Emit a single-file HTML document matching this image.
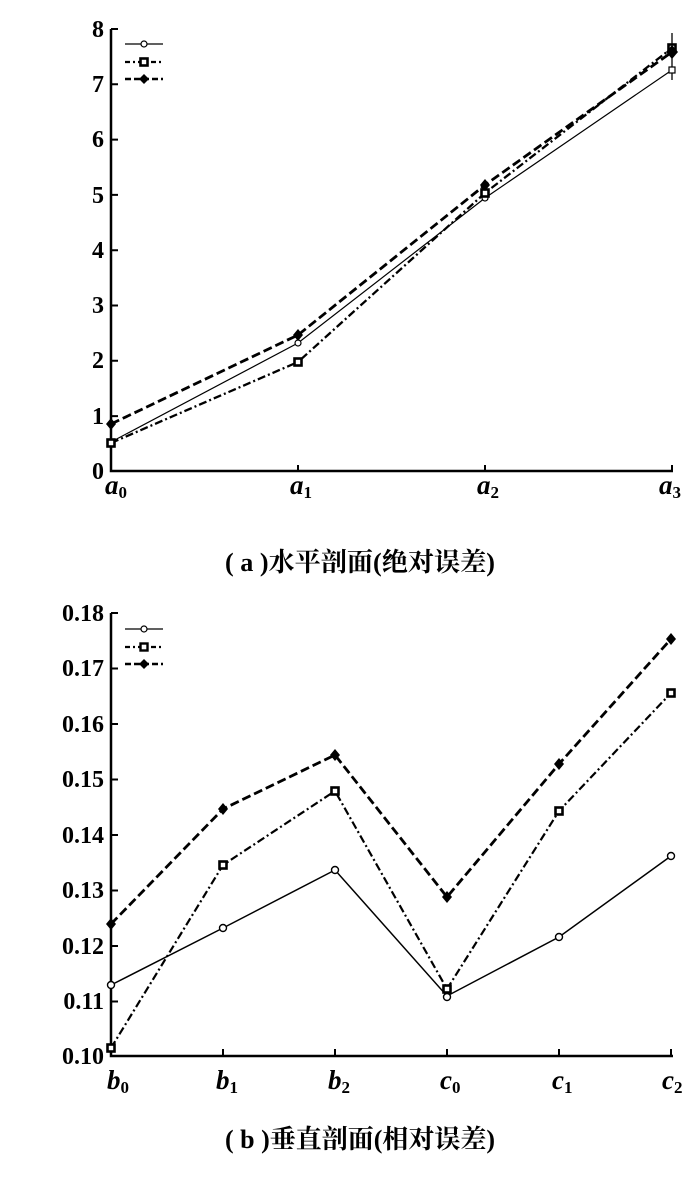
<!DOCTYPE html>
<html><head><meta charset="utf-8"><style>
html,body{margin:0;padding:0;background:#fff;}
svg{display:block;}
.t{font-family:"Liberation Serif",serif;font-weight:bold;font-size:24px;fill:#000;}
.x{font-family:"Liberation Serif",serif;font-weight:bold;font-style:italic;font-size:27px;fill:#000;}
.s{font-style:normal;font-size:17px;}
.c{font-family:"Liberation Serif","Noto Serif CJK SC",serif;font-size:26px;font-weight:bold;fill:#000;}
</style></head><body>
<svg width="700" height="1190" viewBox="0 0 700 1190" xmlns="http://www.w3.org/2000/svg">
<rect width="700" height="1190" fill="#fff"/>
<!-- TOP CHART -->
<g stroke="#000" stroke-width="2.5" fill="none">
<path d="M111,29 V471 H673"/>
<path d="M111,29 h7 M111,84.3 h7 M111,139.6 h7 M111,194.9 h7 M111,250.2 h7 M111,305.5 h7 M111,360.8 h7 M111,416.1 h7" stroke-width="2"/>
<path d="M298,471 v-6 M485,471 v-6 M672,471 v-6" stroke-width="2"/>
</g>
<g class="t" text-anchor="end">
<text x="104" y="37">8</text><text x="104" y="92">7</text><text x="104" y="147">6</text><text x="104" y="203">5</text>
<text x="104" y="258">4</text><text x="104" y="313">3</text><text x="104" y="368">2</text><text x="104" y="424">1</text><text x="104" y="479">0</text>
</g>
<g class="x">
<text x="105" y="494">a<tspan class="s" dy="4">0</tspan></text>
<text x="290" y="494">a<tspan class="s" dy="4">1</tspan></text>
<text x="477" y="494">a<tspan class="s" dy="4">2</tspan></text>
<text x="659" y="494">a<tspan class="s" dy="4">3</tspan></text>
</g>
<!-- series -->
<polyline points="111,442 298,343 485,198 672,70" fill="none" stroke="#000" stroke-width="1.2"/>
<polyline points="111,443 298,362 485,193 672,48" fill="none" stroke="#000" stroke-width="2.3" stroke-dasharray="8,3,2,3"/>
<polyline points="111,424 298,335 485,185 672,52" fill="none" stroke="#000" stroke-width="2.8" stroke-dasharray="9,4"/>
<line x1="672" y1="33" x2="672" y2="80" stroke="#000" stroke-width="1.3"/>
<g fill="#fff" stroke="#000" stroke-width="1.2">
<circle cx="298" cy="343" r="3"/><circle cx="485" cy="198" r="3"/><rect x="669" y="67" width="6" height="6"/>
</g>
<g fill="#fff" stroke="#000" stroke-width="2.6">
<rect x="107.5" y="439.5" width="7" height="7"/><rect x="294.5" y="358.5" width="7" height="7"/><rect x="481.5" y="189.5" width="7" height="7"/><rect x="668.5" y="44.5" width="7" height="7"/>
</g>
<g fill="#000">
<path d="M111,418 l5,6 l-5,6 l-5,-6z"/><path d="M298,329 l5,6 l-5,6 l-5,-6z"/><path d="M485,179 l5,6 l-5,6 l-5,-6z"/><path d="M672,45 l6,7 l-6,7 l-6,-7z"/>
</g>
<!-- legend top -->
<line x1="125" y1="44" x2="163" y2="44" stroke="#000" stroke-width="1.3"/>
<circle cx="144" cy="44" r="3" fill="#fff" stroke="#000" stroke-width="1.2"/>
<line x1="125" y1="62" x2="163" y2="62" stroke="#000" stroke-width="2.3" stroke-dasharray="5,3,2,3"/>
<rect x="140.5" y="58.5" width="7" height="7" fill="#fff" stroke="#000" stroke-width="2.6"/>
<line x1="125" y1="79" x2="163" y2="79" stroke="#000" stroke-width="2.6" stroke-dasharray="6,3"/>
<path d="M144,74 l5,5 l-5,5 l-5,-5z" fill="#000"/>
<text class="c" x="360" y="571" text-anchor="middle" textLength="270" lengthAdjust="spacingAndGlyphs">( a )水平剖面(绝对误差)</text>

<!-- BOTTOM CHART -->
<g stroke="#000" stroke-width="2.5" fill="none">
<path d="M111,613 V1056 H673"/>
<path d="M111,613 h7 M111,668.5 h7 M111,724 h7 M111,779.5 h7 M111,835 h7 M111,890.5 h7 M111,946 h7 M111,1001.5 h7" stroke-width="2"/>
<path d="M223,1056 v-7 M335,1056 v-7 M447,1056 v-7 M559,1056 v-7 M671,1056 v-7" stroke-width="2"/>
</g>
<g class="t" text-anchor="end">
<text x="104" y="621">0.18</text><text x="104" y="676">0.17</text><text x="104" y="732">0.16</text><text x="104" y="787">0.15</text>
<text x="104" y="843">0.14</text><text x="104" y="898">0.13</text><text x="104" y="954">0.12</text><text x="104" y="1009">0.11</text><text x="104" y="1064">0.10</text>
</g>
<g class="x">
<text x="107" y="1089">b<tspan class="s" dy="4">0</tspan></text>
<text x="216" y="1089">b<tspan class="s" dy="4">1</tspan></text>
<text x="328" y="1089">b<tspan class="s" dy="4">2</tspan></text>
<text x="440" y="1089">c<tspan class="s" dy="4">0</tspan></text>
<text x="552" y="1089">c<tspan class="s" dy="4">1</tspan></text>
<text x="662" y="1089">c<tspan class="s" dy="4">2</tspan></text>
</g>
<polyline points="111,985 223,928 335,870 447,996 559,937 671,856" fill="none" stroke="#000" stroke-width="1.5"/>
<polyline points="111,1048 223,865 335,791 447,989 559,811 671,693" fill="none" stroke="#000" stroke-width="2.2" stroke-dasharray="8,3,2,3"/>
<polyline points="111,924 223,809 335,755 447,897 559,764 671,639" fill="none" stroke="#000" stroke-width="2.8" stroke-dasharray="9,4"/>
<g fill="#fff" stroke="#000" stroke-width="1.4">
<circle cx="111" cy="985" r="3.5"/><circle cx="223" cy="928" r="3.5"/><circle cx="335" cy="870" r="3.5"/><circle cx="447" cy="997" r="3.5"/><circle cx="559" cy="937" r="3.5"/><circle cx="671" cy="856" r="3.5"/>
</g>
<g fill="#fff" stroke="#000" stroke-width="2.6">
<rect x="107.5" y="1044.5" width="7" height="7"/><rect x="219.5" y="861.5" width="7" height="7"/><rect x="331.5" y="787.5" width="7" height="7"/><rect x="443.5" y="985.5" width="7" height="7"/><rect x="555.5" y="807.5" width="7" height="7"/><rect x="667.5" y="689.5" width="7" height="7"/>
</g>
<g fill="#000">
<path d="M111,918 l5,6 l-5,6 l-5,-6z"/><path d="M223,803 l5,6 l-5,6 l-5,-6z"/><path d="M335,749 l5,6 l-5,6 l-5,-6z"/><path d="M447,891 l5,6 l-5,6 l-5,-6z"/><path d="M559,758 l5,6 l-5,6 l-5,-6z"/><path d="M671,633 l5,6 l-5,6 l-5,-6z"/>
</g>
<!-- legend bottom -->
<line x1="125" y1="629" x2="163" y2="629" stroke="#000" stroke-width="1.3"/>
<circle cx="144" cy="629" r="3" fill="#fff" stroke="#000" stroke-width="1.2"/>
<line x1="125" y1="647" x2="163" y2="647" stroke="#000" stroke-width="2.3" stroke-dasharray="5,3,2,3"/>
<rect x="140.5" y="643.5" width="7" height="7" fill="#fff" stroke="#000" stroke-width="2.4"/>
<line x1="125" y1="664" x2="163" y2="664" stroke="#000" stroke-width="2.6" stroke-dasharray="6,3"/>
<path d="M144,659 l5,5 l-5,5 l-5,-5z" fill="#000"/>
<text class="c" x="360" y="1148" text-anchor="middle" textLength="270" lengthAdjust="spacingAndGlyphs">( b )垂直剖面(相对误差)</text>
</svg>
</body></html>
